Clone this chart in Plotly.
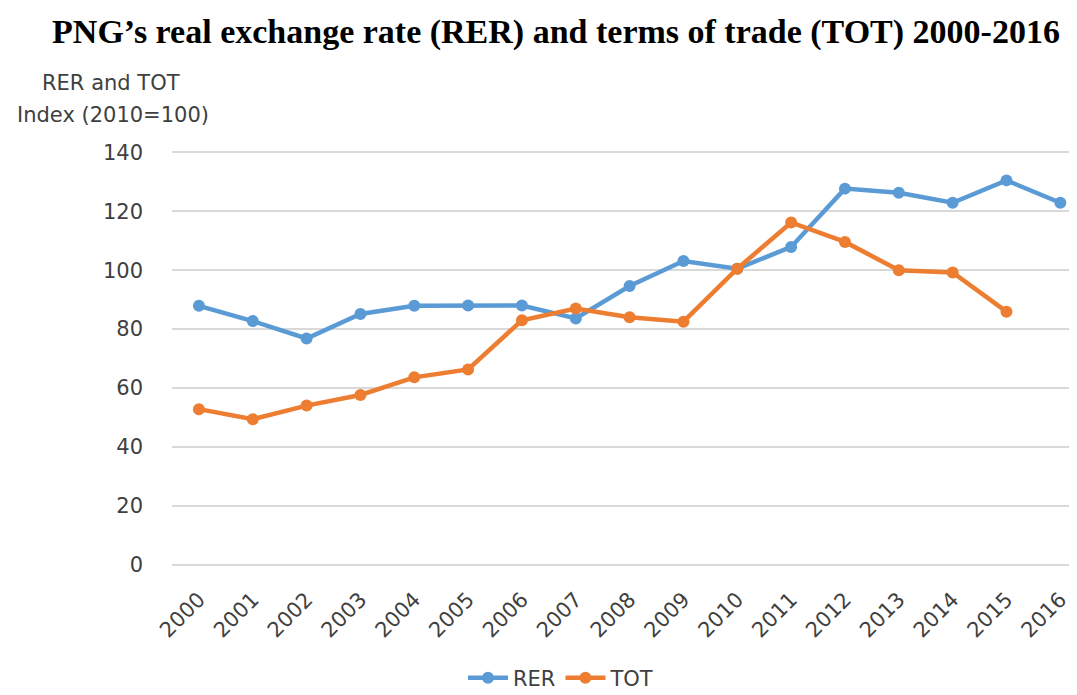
import plotly.graph_objects as go

years = [str(y) for y in range(2000, 2017)]
rer = [87.9, 82.7, 76.8, 85.1, 87.9, 88.0, 88.0, 83.6, 94.6, 103.1, 100.5, 107.9, 127.7, 126.3, 122.9, 130.5, 122.9]
tot = [52.8, 49.4, 54.0, 57.6, 63.6, 66.3, 83.0, 87.0, 84.0, 82.5, 100.5, 116.2, 109.6, 100.0, 99.2, 85.9]
yticks = [0, 20, 40, 60, 80, 100, 120, 140]

BLUE = "#5B9BD5"
ORANGE = "#ED7D31"
TXT = "#404040"
FONT = "DejaVu Sans"
# the page body adds an 8px offset; work in screenshot pixels and shift
O = 8
W, H = 1077 - O, 695 - O
L, R, T, B = 172 - O, 0, 148 - O, 126
PW, PH = W - L - R, H - T - B

def px_x(x):
    return (x - O - L) / PW

def px_y(y):
    return (H - B - (y - O)) / PH

fig = go.Figure()
fig.add_trace(go.Scatter(x=years, y=rer, name="RER", mode="lines+markers",
                         line=dict(color=BLUE, width=4.5),
                         marker=dict(color=BLUE, size=12)))
fig.add_trace(go.Scatter(x=years[:len(tot)], y=tot, name="TOT", mode="lines+markers",
                         line=dict(color=ORANGE, width=4.5),
                         marker=dict(color=ORANGE, size=12)))

fig.update_layout(
    width=W, height=H,
    margin=dict(l=L, r=R, t=T, b=B, autoexpand=False),
    paper_bgcolor="white", plot_bgcolor="white",
    title=dict(text="<b>PNG’s real exchange rate (RER) and terms of trade (TOT) 2000-2016</b>",
               x=(556 - O) / W, xanchor="center", y=1 - (31 - O) / H, yanchor="middle",
               font=dict(family="Liberation Serif", size=34, color="black")),
    font=dict(family=FONT, color=TXT, size=21),
    showlegend=True,
    legend=dict(orientation="h", xref="container", x=(561 - O) / W, xanchor="center",
                yref="container", y=1 - (678 - O) / H, yanchor="middle",
                font=dict(family=FONT, size=21, color=TXT), itemwidth=40,
                traceorder="normal"),
    xaxis=dict(type="category", categoryorder="array", categoryarray=years,
               range=[-0.5, 16.31], tickangle=-45, showgrid=False, showline=False,
               ticks="", tickfont=dict(family=FONT, size=21, color=TXT),
               ticklabelstandoff=13, automargin=False),
    yaxis=dict(range=[-1.5, 141.5], tickvals=yticks, showgrid=True, gridcolor="#D9D9D9",
               gridwidth=1.5, zeroline=True, zerolinecolor="#D9D9D9", zerolinewidth=1.5,
               showline=False, ticks="",
               tickfont=dict(family=FONT, size=21, color=TXT), ticklabelstandoff=28,
               automargin=False),
    annotations=[
        dict(text="RER and TOT", xref="paper", yref="paper",
             x=px_x(111), xanchor="center", y=px_y(83), yanchor="middle",
             showarrow=False, font=dict(family=FONT, size=21, color=TXT)),
        dict(text="Index (2010=100)", xref="paper", yref="paper",
             x=px_x(113), xanchor="center", y=px_y(115), yanchor="middle",
             showarrow=False, font=dict(family=FONT, size=21, color=TXT)),
    ],
)

fig.write_html("out.html")
